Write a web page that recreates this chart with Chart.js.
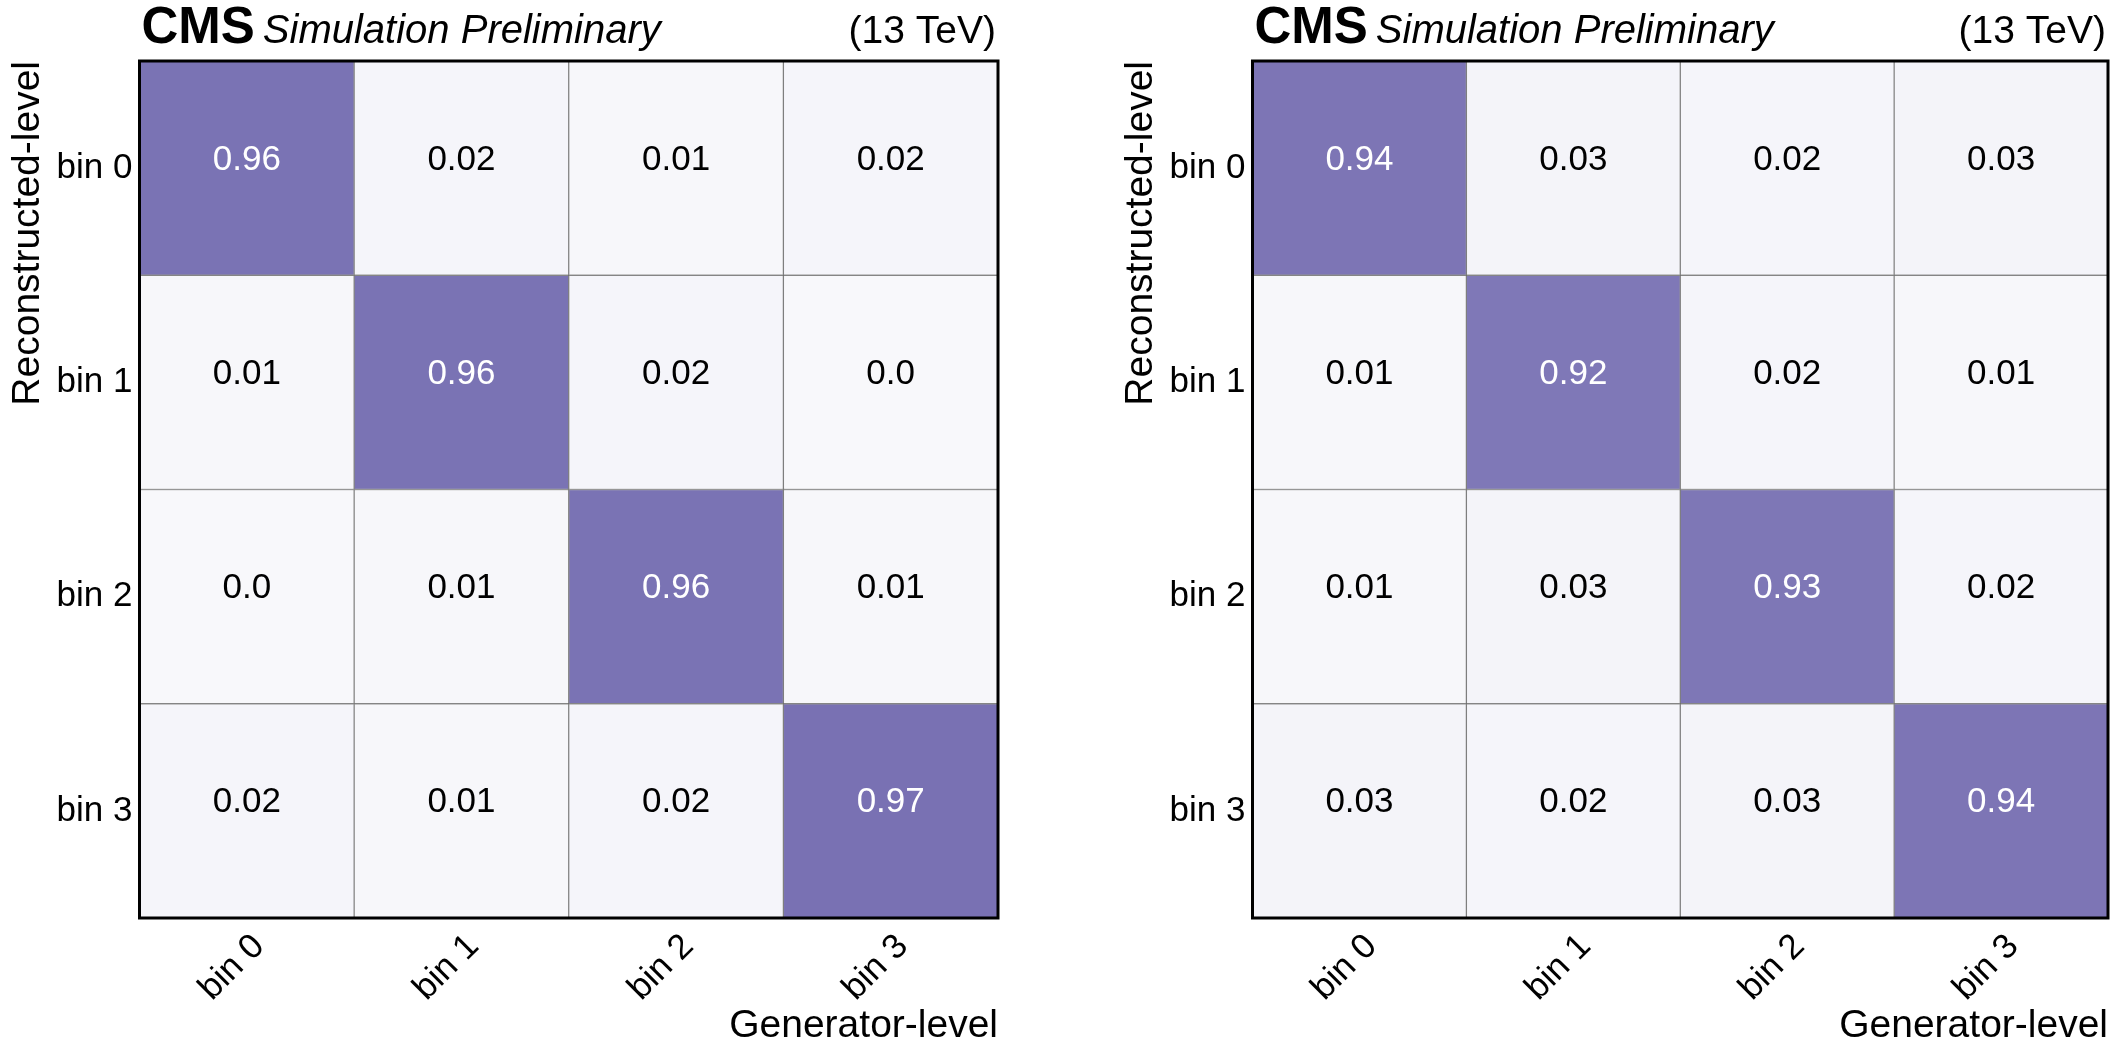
<!DOCTYPE html>
<html>
<head>
<meta charset="utf-8">
<script src="https://cdn.jsdelivr.net/npm/chart.js@4"></script>
<style>
  html, body { margin: 0; padding: 0; background: #ffffff; }
  body { width: 2123px; height: 1063px; position: relative; overflow: hidden; }
  canvas { position: absolute; top: 0; }
</style>
</head>
<body>
<canvas id="left" width="1062" height="1063" style="left:0px"></canvas>
<canvas id="right" width="1010" height="1063" style="left:1113px"></canvas>
<script>
// ---- data ----
const genLabels = ['bin 0', 'bin 1', 'bin 2', 'bin 3'];
const recoLabels = ['bin 0', 'bin 1', 'bin 2', 'bin 3'];
// rows = reconstructed-level bins (top to bottom), columns = generator-level bins
const leftRow0 = [0.96, 0.02, 0.01, 0.02];
const leftRow1 = [0.01, 0.96, 0.02, 0.0];
const leftRow2 = [0.0, 0.01, 0.96, 0.01];
const leftRow3 = [0.02, 0.01, 0.02, 0.97];
const rightRow0 = [0.94, 0.03, 0.02, 0.03];
const rightRow1 = [0.01, 0.92, 0.02, 0.01];
const rightRow2 = [0.01, 0.03, 0.93, 0.02];
const rightRow3 = [0.03, 0.02, 0.03, 0.94];
const headerLeft = 'CMS';
const headerItalic = 'Simulation Preliminary';
const headerRight = '(13 TeV)';
const xTitle = 'Generator-level';
const yTitle = 'Reconstructed-level';

const FONT = "'Liberation Sans', Arial, Helvetica, sans-serif";
Chart.defaults.font.family = FONT;
Chart.defaults.color = '#000000';

const LIGHT = [248, 248, 251];
const DARK = [117, 109, 177];
function cmap(v) {
  const f = Math.max(0, Math.min(1, v));
  const c = LIGHT.map((l, i) => Math.round(l + (DARK[i] - l) * f));
  return `rgb(${c[0]},${c[1]},${c[2]})`;
}
function fmt(v) { return v === 0 ? '0.0' : String(v); }

const cellLabels = {
  id: 'cellLabels',
  afterDatasetsDraw(chart, args, opts) {
    const ctx = chart.ctx;
    const m = opts.matrix;
    ctx.save();
    ctx.font = `35px ${FONT}`;
    ctx.textAlign = 'center';
    ctx.textBaseline = 'alphabetic';
    chart.data.datasets.forEach((ds, c) => {
      const meta = chart.getDatasetMeta(c);
      meta.data.forEach((el, r) => {
        const v = m[r][c];
        const p = el.getCenterPoint();
        ctx.fillStyle = v > 0.5 ? '#ffffff' : '#000000';
        ctx.fillText(fmt(v), p.x, p.y + 1.5);
      });
    });
    // frame
    const a = chart.chartArea;
    ctx.lineWidth = 3;
    ctx.strokeStyle = '#000000';
    ctx.strokeRect(a.left, a.top, a.right - a.left, a.bottom - a.top);
    // header
    ctx.fillStyle = '#000000';
    ctx.textAlign = 'left';
    ctx.font = `bold 51px ${FONT}`;
    ctx.fillText(headerLeft, a.left + 2, a.top - 18);
    const w = ctx.measureText(headerLeft).width;
    ctx.font = `italic 40px ${FONT}`;
    ctx.fillText(headerItalic, a.left + 2 + w + 8, a.top - 18);
    ctx.textAlign = 'right';
    ctx.font = `39px ${FONT}`;
    ctx.fillText(headerRight, a.right - 2, a.top - 18);
    ctx.restore();
  }
};

function makeChart(id, matrix, padRight) {
  const datasets = genLabels.map((g, c) => ({
    label: g,
    data: recoLabels.map(() => [c - 0.5, c + 0.5]),
    backgroundColor: matrix.map(row => cmap(row[c])),
    borderColor: 'rgba(0,0,0,0.42)',
    borderWidth: 1,
    borderSkipped: false,
    barPercentage: 1,
    categoryPercentage: 1,
    grouped: false
  }));
  return new Chart(document.getElementById(id), {
    type: 'bar',
    data: { labels: recoLabels, datasets },
    plugins: [cellLabels],
    options: {
      indexAxis: 'y',
      responsive: false,
      animation: false,
      devicePixelRatio: 1,
      layout: { padding: { top: 61, right: padRight, bottom: 0, left: 0 } },
      plugins: {
        legend: { display: false },
        tooltip: { enabled: false },
        cellLabels: { matrix }
      },
      scales: {
        x: {
          type: 'linear',
          min: -0.5,
          max: 3.5,
          afterBuildTicks: (s) => { s.ticks = genLabels.map((_, i) => ({ value: i })); },
          afterFit: (s) => { s.height = 145; },
          grid: { display: false, drawTicks: false },
          border: { display: false },
          ticks: {
            callback: (v) => genLabels[v],
            minRotation: 45,
            maxRotation: 45,
            labelOffset: 12,
            padding: 8,
            font: { size: 35 },
            color: '#000000'
          },
          title: {
            display: true,
            text: xTitle,
            align: 'end',
            font: { size: 39 },
            color: '#000000',
            padding: { top: 0, bottom: 13 }
          }
        },
        y: {
          type: 'category',
          afterFit: (s) => { s.width = 139.5; },
          grid: { display: false, drawTicks: false },
          border: { display: false },
          ticks: { padding: 7, font: { size: 35 }, color: '#000000' },
          title: {
            display: true,
            text: yTitle,
            align: 'end',
            font: { size: 39 },
            color: '#000000',
            padding: { top: 5, bottom: 0 }
          }
        }
      }
    }
  });
}

makeChart('left', [leftRow0, leftRow1, leftRow2, leftRow3], 64);
makeChart('right', [rightRow0, rightRow1, rightRow2, rightRow3], 15);
</script>
</body>
</html>
